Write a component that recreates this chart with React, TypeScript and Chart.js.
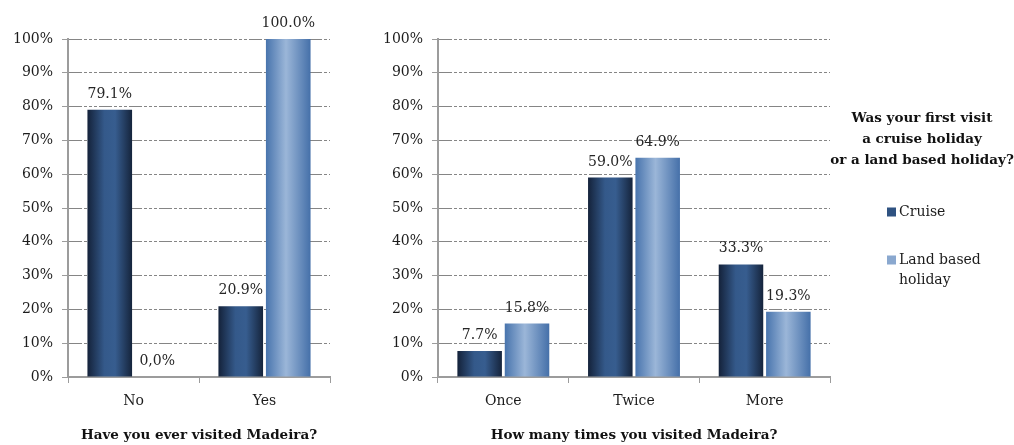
import { useEffect, useRef } from 'react';
import { Chart, registerables } from 'chart.js';

Chart.register(...registerables);

// Series shared by both panels
const seriesNames = ['Cruise', 'Land based holiday'];

// Panel 1: Have you ever visited Madeira?
const everCategories = ['No', 'Yes'];
const everCruise = [79.1, 20.9];
const everLand = [0.0, 100.0];

// Panel 2: How many times you visited Madeira?
const timesCategories = ['Once', 'Twice', 'More'];
const timesCruise = [7.7, 59.0, 33.3];
const timesLand = [15.8, 64.9, 19.3];

const percentMax = 100;
const percentStep = 10;

const everTitle = 'Have you ever visited Madeira?';
const timesTitle = 'How many times you visited Madeira?';
const legendTitle = ['Was your first visit', 'a cruise holiday', 'or a land based holiday?'];

const SERIF = "'DejaVu Serif', 'Liberation Serif', serif";
const TEXT = '#1c1c1c';
const AXIS = '#9c9c9c';
const GRID = '#858585';

const swatchColors = ['#2f5281', '#8aa8cf'];
const shadeStops: [number, string][][] = [
  [[0, '#14223a'], [0.38, '#34598a'], [0.62, '#375d8f'], [1, '#15243c']],
  [[0, '#4874ad'], [0.45, '#9bb6d8'], [1, '#4570a9']],
];

function formatPct(v: number): string {
  return v === 0 ? '0,0%' : v.toFixed(1) + '%';
}

function wrapText(ctx: CanvasRenderingContext2D, text: string, maxWidth: number): string[] {
  const words = text.split(' ');
  const lines: string[] = [];
  let cur = '';
  for (const w of words) {
    const test = cur ? cur + ' ' + w : w;
    if (cur && ctx.measureText(test).width > maxWidth) {
      lines.push(cur);
      cur = w;
    } else {
      cur = test;
    }
  }
  if (cur) lines.push(cur);
  return lines;
}

// Horizontal shading across each bar
const barShading = {
  id: 'barShading',
  beforeDatasetsDraw(chart: any) {
    const ctx = chart.ctx;
    chart.data.datasets.forEach((_ds: any, i: number) => {
      const stops = shadeStops[i];
      chart.getDatasetMeta(i).data.forEach((el: any) => {
        const { x, width } = el.getProps(['x', 'width'], true);
        const g = ctx.createLinearGradient(x - width / 2, 0, x + width / 2, 0);
        stops.forEach(([o, c]) => g.addColorStop(o, c));
        el.options = { ...el.options, backgroundColor: g };
      });
    });
  },
};

// Value text above each bar
const valueLabels = {
  id: 'valueLabels',
  afterDatasetsDraw(chart: any) {
    const ctx = chart.ctx;
    ctx.save();
    ctx.font = `14px ${SERIF}`;
    ctx.fillStyle = '#262626';
    ctx.textAlign = 'center';
    ctx.textBaseline = 'alphabetic';
    chart.data.datasets.forEach((ds: any, i: number) => {
      chart.getDatasetMeta(i).data.forEach((el: any, j: number) => {
        ctx.fillText(formatPct(ds.data[j]), el.x, el.y - 12);
      });
    });
    ctx.restore();
  },
};

// Titled legend in the right margin of the second panel
const sideLegend = {
  id: 'sideLegend',
  afterDraw(chart: any) {
    const ctx = chart.ctx;
    const left = chart.chartArea.right;
    ctx.save();
    ctx.fillStyle = '#111';
    ctx.textAlign = 'center';
    ctx.textBaseline = 'middle';
    ctx.font = `bold 13.5px ${SERIF}`;
    legendTitle.forEach((line, k) => ctx.fillText(line, left + 92, 118 + k * 21));
    ctx.font = `14px ${SERIF}`;
    ctx.textAlign = 'left';
    let y = 212;
    chart.data.datasets.forEach((ds: any, i: number) => {
      ctx.fillStyle = swatchColors[i];
      ctx.fillRect(left + 57, y - 4.5, 9, 9);
      ctx.fillStyle = TEXT;
      const lines = wrapText(ctx, ds.label, 100);
      lines.forEach((l, k) => ctx.fillText(l, left + 69, y + k * 20));
      y += 48;
    });
    ctx.restore();
  },
};

function buildConfig(
  categories: string[],
  cruise: number[],
  land: number[],
  title: string,
  yAxisWidth: number,
  rightSpace: number,
  withLegend: boolean
): any {
  return {
    type: 'bar',
    data: {
      labels: categories,
      datasets: [
        { label: seriesNames[0], data: cruise, backgroundColor: swatchColors[0], borderWidth: 0 },
        { label: seriesNames[1], data: land, backgroundColor: swatchColors[1], borderWidth: 0 },
      ],
    },
    options: {
      responsive: false,
      maintainAspectRatio: false,
      animation: false,
      devicePixelRatio: 1,
      categoryPercentage: 0.725,
      barPercentage: 0.94,
      layout: { padding: { top: 39, right: rightSpace, left: 0, bottom: 0 } },
      plugins: {
        legend: { display: false },
        tooltip: { enabled: false },
        title: { display: false },
      },
      scales: {
        x: {
          grid: {
            display: true,
            drawOnChartArea: false,
            drawTicks: true,
            tickLength: 6,
            color: AXIS,
            tickColor: AXIS,
            offset: true,
          },
          border: { display: true, color: AXIS, width: 2 },
          ticks: { color: TEXT, font: { family: SERIF, size: 14 }, padding: 10 },
          title: {
            display: true,
            text: title,
            color: '#111',
            font: { family: SERIF, size: 13.5, weight: 'bold' },
            padding: { top: 0, bottom: 1 },
          },
          afterFit: (s: any) => {
            s.height = 68;
          },
        },
        y: {
          min: 0,
          max: percentMax,
          ticks: {
            stepSize: percentStep,
            color: TEXT,
            font: { family: SERIF, size: 14 },
            padding: 9,
            callback: (v: any) => v + '%',
          },
          grid: {
            color: GRID,
            lineWidth: 1,
            drawTicks: true,
            tickLength: 6,
            tickColor: AXIS,
            tickBorderDash: [],
          },
          border: { display: true, color: AXIS, width: 2, dash: [13, 2, 3, 2, 3, 2, 3, 2] },
          afterFit: (s: any) => {
            s.width = yAxisWidth;
          },
        },
      },
    },
    plugins: withLegend ? [barShading, valueLabels, sideLegend] : [barShading, valueLabels],
  };
}

function Panel(props: {
  left: number;
  width: number;
  categories: string[];
  cruise: number[];
  land: number[];
  title: string;
  yAxisWidth: number;
  rightSpace: number;
  withLegend: boolean;
}) {
  const ref = useRef<HTMLCanvasElement>(null);
  useEffect(() => {
    if (!ref.current) return;
    const chart = new Chart(
      ref.current,
      buildConfig(
        props.categories,
        props.cruise,
        props.land,
        props.title,
        props.yAxisWidth,
        props.rightSpace,
        props.withLegend
      )
    );
    return () => chart.destroy();
  }, []);
  return (
    <canvas
      ref={ref}
      width={props.width}
      height={445}
      style={{ position: 'absolute', left: props.left, top: 0, width: props.width, height: 445 }}
    />
  );
}

export default function App() {
  return (
    <div style={{ position: 'absolute', left: 0, top: 0, width: 1014, height: 445, background: '#fff' }}>
      <Panel
        left={0}
        width={345}
        categories={everCategories}
        cruise={everCruise}
        land={everLand}
        title={everTitle}
        yAxisWidth={68}
        rightSpace={15}
        withLegend={false}
      />
      <Panel
        left={350}
        width={664}
        categories={timesCategories}
        cruise={timesCruise}
        land={timesLand}
        title={timesTitle}
        yAxisWidth={88}
        rightSpace={184}
        withLegend={true}
      />
    </div>
  );
}
